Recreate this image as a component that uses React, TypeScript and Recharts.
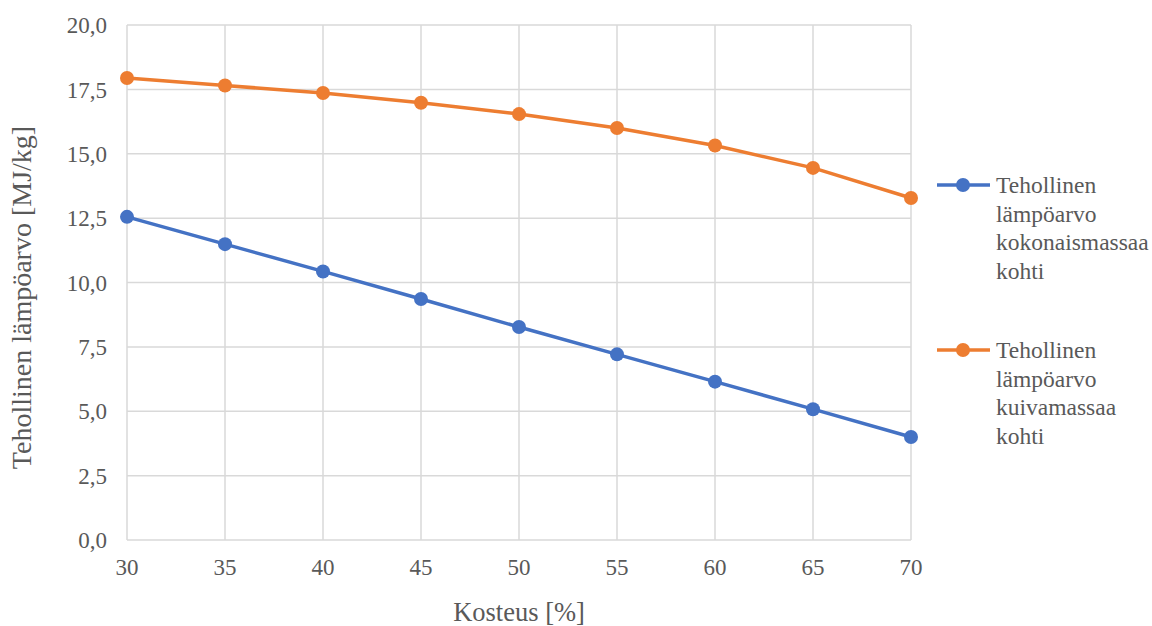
import React from "react";
import { LineChart, Line, XAxis, YAxis, CartesianGrid } from "recharts";

const moisture = [30, 35, 40, 45, 50, 55, 60, 65, 70];
const totalMassValues = [12.55, 11.49, 10.43, 9.36, 8.27, 7.21, 6.15, 5.08, 4.0];
const dryMassValues = [17.94, 17.65, 17.36, 16.98, 16.54, 16.0, 15.32, 14.45, 13.28];

const xTicks = [30, 35, 40, 45, 50, 55, 60, 65, 70];
const yTicks = [0, 2.5, 5, 7.5, 10, 12.5, 15, 17.5, 20];

const series = [
  { key: "total", name: "Tehollinen lämpöarvo kokonaismassaa kohti", color: "#4472C4" },
  { key: "dry", name: "Tehollinen lämpöarvo kuivamassaa kohti", color: "#ED7D31" },
];

const data = moisture.map((m, i) => ({
  moisture: m,
  total: totalMassValues[i],
  dry: dryMassValues[i],
}));

const FONT = '"Liberation Serif", "Times New Roman", serif';
const TEXT_COLOR = "#595959";
const TICK_SIZE = 23;
const TITLE_SIZE = 26.5;

const formatComma = (v: number) => v.toFixed(1).replace(".", ",");

// legend sits to the right of the plot, one word per line
const SeriesLegend = () => (
  <div
    style={{
      position: "absolute",
      left: 937,
      top: 171,
      fontFamily: FONT,
      fontSize: 23.5,
      color: TEXT_COLOR,
      lineHeight: "28.5px",
    }}
  >
    {series.map((s, idx) => (
      <div key={s.key} style={{ display: "flex", marginTop: idx === 0 ? 0 : 51 }}>
        <svg width={59} height={28.5} style={{ flex: "none" }}>
          <line x1={0} y1={14} x2={53} y2={14} stroke={s.color} strokeWidth={3.5} />
          <circle cx={26} cy={14} r={7} fill={s.color} />
        </svg>
        <div>
          {s.name.split(" ").map((w) => (
            <div key={w}>{w}</div>
          ))}
        </div>
      </div>
    ))}
  </div>
);

export default function App() {
  return (
    <div style={{ position: "fixed", left: 0, top: 0, width: 1152, height: 626, background: "#fff" }}>
      <LineChart
        width={1152}
        height={626}
        data={data}
        margin={{ top: 25, right: 241, left: 0, bottom: 0 }}
      >
        <CartesianGrid stroke="#d9d9d9" strokeWidth={1.5} />
        <XAxis
          dataKey="moisture"
          type="number"
          domain={[30, 70]}
          ticks={xTicks}
          height={86}
          axisLine={false}
          tickLine={false}
          tickSize={0}
          tickMargin={19}
          tick={{ fill: TEXT_COLOR, fontSize: TICK_SIZE, fontFamily: FONT }}
          label={{
            content: ({ viewBox }: any) => (
              <text
                x={viewBox.x + viewBox.width / 2}
                y={viewBox.y + 81}
                textAnchor="middle"
                fill={TEXT_COLOR}
                fontSize={TITLE_SIZE}
                fontFamily={FONT}
              >
                Kosteus [%]
              </text>
            ),
          }}
        />
        <YAxis
          type="number"
          domain={[0, 20]}
          ticks={yTicks}
          width={127}
          axisLine={false}
          tickLine={false}
          tickSize={0}
          tickMargin={20}
          tickFormatter={formatComma}
          tick={{ fill: TEXT_COLOR, fontSize: TICK_SIZE, fontFamily: FONT }}
          label={{
            content: ({ viewBox }: any) => {
              const bx = viewBox.x + 31;
              const cy = viewBox.y + viewBox.height / 2 + 15;
              return (
                <text
                  x={bx}
                  y={cy}
                  transform={`rotate(-90 ${bx} ${cy})`}
                  textAnchor="middle"
                  fill={TEXT_COLOR}
                  fontSize={28}
                  fontFamily={FONT}
                >
                  Tehollinen lämpöarvo [MJ/kg]
                </text>
              );
            },
          }}
        />
        {series.map((s) => (
          <Line
            key={s.key}
            dataKey={s.key}
            name={s.name}
            stroke={s.color}
            strokeWidth={3.5}
            dot={{ r: 7, fill: s.color, stroke: s.color, strokeWidth: 0 }}
            activeDot={false}
            isAnimationActive={false}
          />
        ))}
      </LineChart>
      <SeriesLegend />
    </div>
  );
}
